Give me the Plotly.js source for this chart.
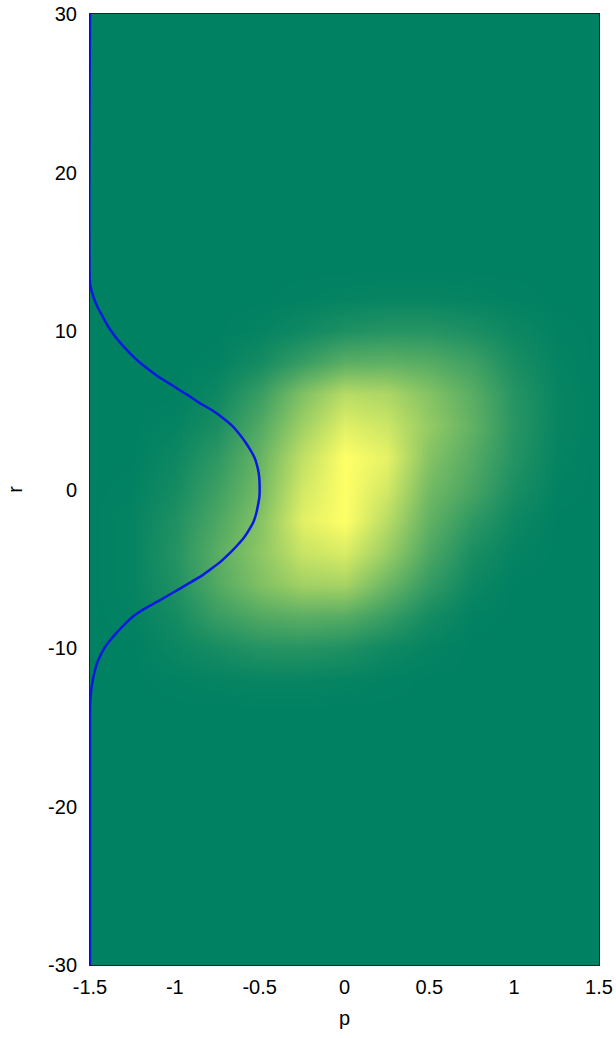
<!DOCTYPE html>
<html>
<head>
<meta charset="utf-8">
<script src="https://cdn.plot.ly/plotly-3.0.1.min.js"></script>
<style>html,body{margin:0;padding:0;background:#fff;}#chart{width:616px;height:1038px;}</style>
</head>
<body>
<div id="chart"></div>
<script>
// Heatmap grid (p columns, r rows) and estimated intensity values
const pGrid = [-1.5,-1.25,-1,-0.75,-0.5,-0.25,0,0.25,0.5,0.75,1,1.25,1.5];
const rGrid = [-30,-14,-12,-10,-8,-6,-4,-2,0,2,4,6,8,10,12,14,30];
const zRows = [
  [0,0,0,0,0,0,0,0,0,0,0,0,0],
  [0,0,0,0,0,0,0,0,0,0,0,0,0],
  [0,0,0.01,0.02,0.03,0.03,0.02,0.01,0,0,0,0,0],
  [0,0,0.04,0.09,0.14,0.15,0.12,0.06,0.02,0,0,0,0],
  [0,0.01,0.08,0.22,0.32,0.36,0.34,0.22,0.08,0.01,0,0,0],
  [0,0.02,0.12,0.32,0.5,0.63,0.65,0.42,0.2,0.05,0,0,0],
  [0,0.02,0.14,0.35,0.55,0.78,0.85,0.6,0.3,0.1,0.02,0,0],
  [0,0.02,0.12,0.3,0.52,0.88,1.0,0.72,0.38,0.18,0.05,0,0],
  [0,0.01,0.08,0.24,0.45,0.82,1.0,0.82,0.45,0.28,0.1,0.01,0],
  [0,0,0.05,0.18,0.4,0.75,1.0,0.9,0.52,0.33,0.14,0.02,0],
  [0,0,0.02,0.1,0.32,0.62,0.88,0.8,0.58,0.38,0.16,0.03,0],
  [0,0,0,0.05,0.22,0.5,0.72,0.68,0.52,0.35,0.15,0.03,0],
  [0,0,0,0.01,0.08,0.22,0.36,0.38,0.34,0.25,0.1,0.02,0],
  [0,0,0,0,0.02,0.06,0.12,0.15,0.15,0.11,0.05,0.01,0],
  [0,0,0,0,0,0.01,0.02,0.03,0.03,0.02,0.01,0,0],
  [0,0,0,0,0,0,0,0,0,0,0,0,0],
  [0,0,0,0,0,0,0,0,0,0,0,0,0]
];

// Marginal curve (blue line), read point by point
const curveR = [30,13.0,12.5,12.0,11.5,11.0,10.5,10.0,9.5,9.0,8.5,8.0,7.5,7.0,6.5,6.0,5.5,5.0,4.5,4.0,3.5,3.0,2.5,2.0,1.5,1.0,0,
  -0.5,-1.0,-1.5,-2.0,-2.5,-3.0,-3.5,-4.0,-4.5,-5.0,-5.5,-6.0,-6.5,-7.0,-7.5,-8.0,-8.5,-9.0,-9.5,-10.0,-10.5,-11.0,-11.5,-12.0,-12.5,-13.0,-13.8,-30];
const curveP = [-1.5,-1.5,-1.49,-1.475,-1.455,-1.43,-1.405,-1.375,-1.34,-1.3,-1.255,-1.205,-1.145,-1.08,-1.005,-0.93,-0.86,-0.78,-0.715,-0.66,-0.62,-0.585,-0.555,-0.53,-0.515,-0.505,-0.5,
  -0.502,-0.51,-0.52,-0.535,-0.56,-0.59,-0.63,-0.675,-0.725,-0.785,-0.85,-0.93,-1.01,-1.09,-1.175,-1.245,-1.295,-1.34,-1.38,-1.415,-1.44,-1.46,-1.473,-1.483,-1.491,-1.496,-1.5,-1.5];

const xTickVals = [-1.5,-1,-0.5,0,0.5,1,1.5];
const xTickText = ['-1.5','-1','-0.5','0','0.5','1','1.5'];
const yTickVals = [-30,-20,-10,0,10,20,30];
const yTickText = ['-30','-20','-10','0','10','20','30'];

const traces = [
  {
    type: 'heatmap', x: pGrid, y: rGrid, z: zRows,
    zmin: 0, zmax: 1, zsmooth: 'best', showscale: false, hoverinfo: 'skip',
    colorscale: [[0,'rgb(0,129,98)'],[1,'rgb(255,255,102)']]
  },
  {
    type: 'scatter', mode: 'lines', x: curveP, y: curveR,
    line: {color: 'rgb(10,25,225)', width: 2.5, shape: 'spline', smoothing: 0.5},
    hoverinfo: 'skip', cliponaxis: false
  }
];

const axisFont = {family: 'Liberation Sans, Arial, sans-serif', size: 20, color: '#000'};
const layout = {
  width: 616, height: 1038,
  margin: {l: 90, r: 17, t: 14, b: 73, pad: 0},
  paper_bgcolor: '#fff', plot_bgcolor: 'rgb(0,129,98)',
  showlegend: false,
  font: axisFont,
  xaxis: {
    range: [-1.5, 1.5], tickvals: xTickVals, ticktext: xTickText,
    ticks: '', showgrid: false, zeroline: false,
    showline: true, linecolor: '#222', linewidth: 1, mirror: true,
    tickfont: axisFont, ticklabelstandoff: 4,
    title: {text: 'p', font: axisFont, standoff: 13}
  },
  yaxis: {
    range: [-30, 30], tickvals: yTickVals, ticktext: yTickText,
    ticks: '', showgrid: false, zeroline: false,
    showline: true, linecolor: '#222', linewidth: 1, mirror: true,
    tickfont: axisFont, ticklabelstandoff: 8,
    title: {text: 'r', font: axisFont, standoff: 20}
  }
};

Plotly.newPlot('chart', traces, layout, {displayModeBar: false, staticPlot: true});
</script>
</body>
</html>
